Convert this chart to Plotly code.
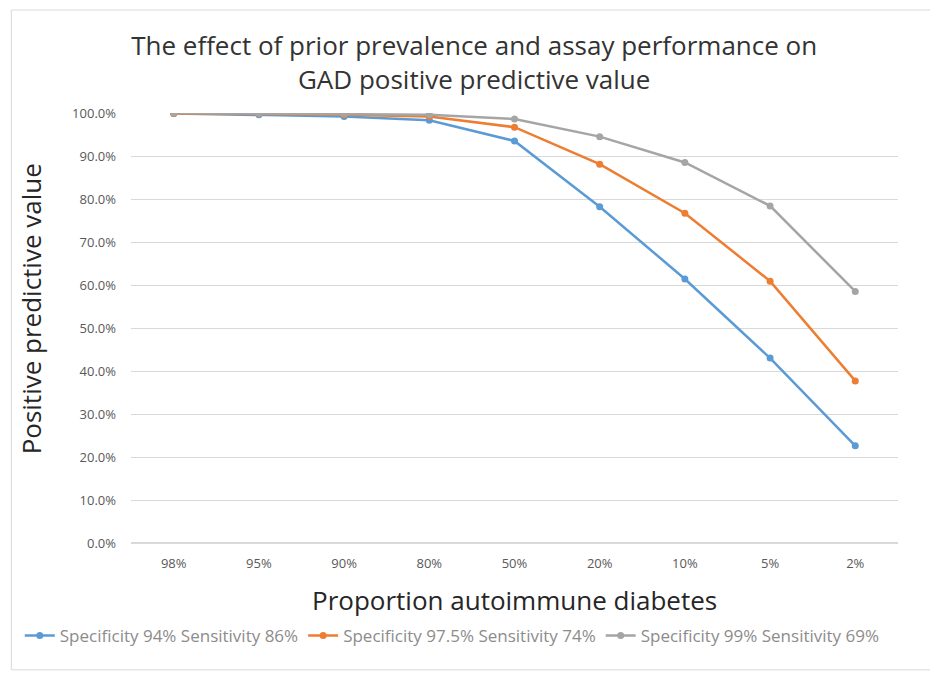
import plotly.graph_objects as go

categories = ["98%", "95%", "90%", "80%", "50%", "20%", "10%", "5%", "2%"]
series_names = [
    "Specificity 94% Sensitivity 86%",
    "Specificity 97.5% Sensitivity 74%",
    "Specificity 99% Sensitivity 69%",
]
ppv_spec94 = [0.999, 0.996, 0.992, 0.983, 0.935, 0.782, 0.614, 0.430, 0.226]
ppv_spec975 = [0.999, 0.998, 0.996, 0.992, 0.967, 0.881, 0.767, 0.609, 0.377]
ppv_spec99 = [1.000, 0.999, 0.998, 0.996, 0.986, 0.945, 0.885, 0.784, 0.585]
colors = ["#5B9BD5", "#ED7D31", "#A5A5A5"]

FONT = "Open Sans"
fig = go.Figure()
for name, vals, c in zip(series_names, [ppv_spec94, ppv_spec975, ppv_spec99], colors):
    fig.add_trace(go.Scatter(
        x=categories, y=vals, name=name, mode="lines+markers",
        line=dict(color=c, width=2.5), marker=dict(color=c, size=7),
    ))

fig.update_layout(
    width=938, height=675,
    margin=dict(l=121, r=48, t=105, b=140),
    paper_bgcolor="white", plot_bgcolor="white",
    font=dict(family=FONT, color="#595959"),
    title=dict(
        text="The effect of prior prevalence and assay performance on<br>GAD positive predictive value",
        x=0.497, xanchor="center", y=0.93, yanchor="top",
        font=dict(family=FONT, size=26, color="#333333"),
    ),
    showlegend=True,
    legend=dict(orientation="h", x=-0.145, xanchor="left", y=-0.216, yanchor="middle",
                font=dict(family=FONT, size=17, color="#8c8c8c"),
                itemwidth=30, tracegroupgap=0),
    xaxis=dict(
        type="category", showgrid=False, zeroline=False,
        showline=False, ticks="",
        tickfont=dict(size=13, color="#595959"), ticklabelstandoff=11,
    ),
    yaxis=dict(
        range=[0, 1.0], dtick=0.1, tickformat=".1%",
        showgrid=True, gridcolor="#D9D9D9", gridwidth=1,
        zeroline=True, zerolinecolor="#D9D9D9", showline=False,
        tickfont=dict(size=13, color="#595959"), ticklabelstandoff=14,
    ),
    annotations=[
        dict(text="Proportion autoimmune diabetes", xref="paper", yref="paper",
             x=0.5006, y=-0.1326, xanchor="center", yanchor="middle", showarrow=False,
             font=dict(family=FONT, size=26, color="#262626")),
        dict(text="Positive predictive value", xref="paper", yref="paper",
             x=-0.13, y=0.544, xanchor="center", yanchor="middle", showarrow=False,
             textangle=-90, font=dict(family=FONT, size=26, color="#262626")),
    ],
    shapes=[dict(type="rect", xref="paper", yref="paper",
                 x0=-0.156, x1=1.06, y0=-0.295, y1=1.2395,
                 line=dict(color="#D9D9D9", width=1), fillcolor="rgba(0,0,0,0)", layer="below")],
)
fig.write_html("out.html")
